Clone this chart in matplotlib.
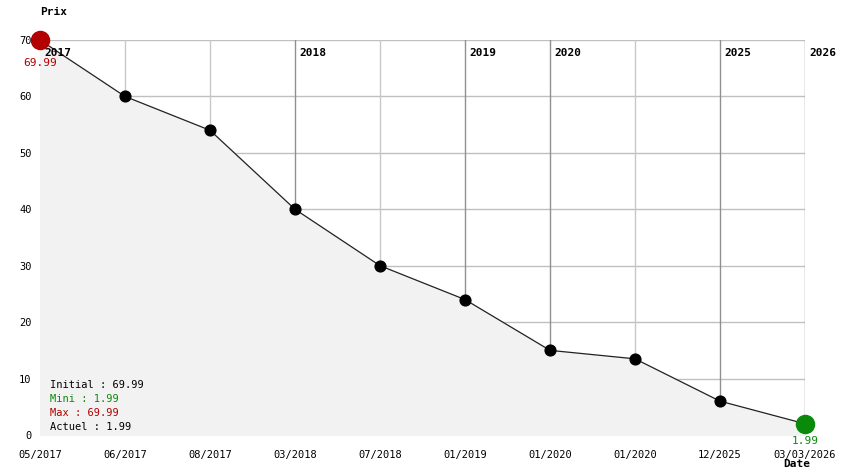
import matplotlib
matplotlib.use("Agg")
import matplotlib.pyplot as plt

dates = ["05/2017","06/2017","08/2017","03/2018","07/2018","01/2019","01/2020","01/2020","12/2025","03/03/2026"]
prices = [69.99, 60, 54, 40, 30, 24, 15, 13.5, 6, 1.99]
year_idx = [0, 3, 5, 6, 8, 9]
year_labels = ["2017", "2018", "2019", "2020", "2025", "2026"]
yticks = [0, 10, 20, 30, 40, 50, 60, 70]

plt.rcParams['font.family'] = ['DejaVu Sans Mono']
fig = plt.figure(figsize=(8.44, 4.74), dpi=100)
ax = fig.add_axes([40/844, 39/474, 765/844, 395/474])
x = list(range(len(prices)))
ax.set_xlim(0, len(prices)-1)
ax.set_ylim(0, 70)
for s in ax.spines.values():
    s.set_visible(False)
for yv in yticks:
    ax.axhline(yv, color="#c0c0c0", lw=1, zorder=0)
for xi in x:
    c = "#909090" if xi in year_idx else "#c8c8c8"
    ax.axvline(xi, color=c, lw=1, zorder=0)
ax.fill_between(x, prices, 0, color="#f2f2f2", zorder=1)
ax.plot(x, prices, color="#222222", lw=0.9, zorder=2)
ax.scatter(x[1:-1], prices[1:-1], s=60, color="black", zorder=3)
ax.scatter([x[0]], [prices[0]], s=170, color="#b30000", zorder=4, clip_on=False)
ax.scatter([x[-1]], [prices[-1]], s=170, color="#0a8a0a", zorder=4, clip_on=False)
for xi, lab in zip(year_idx, year_labels):
    ax.text(xi + 0.05, 68.5, lab, fontsize=8, fontweight="bold", va="top", ha="left", zorder=5)
ax.text(0, 66.8, "69.99", color="#b30000", fontsize=8, ha="center", va="top")
ax.text(x[-1], -0.1, "1.99", color="#0a8a0a", fontsize=8, ha="center", va="top")
ax.set_xticks(x)
ax.set_xticklabels(dates, fontsize=7.5)
ax.set_yticks(yticks)
ax.set_yticklabels([str(v) for v in yticks], fontsize=7.5)
ax.tick_params(axis="x", length=0, pad=11)
ax.tick_params(axis="y", length=0, pad=6)
fig.text(40/844, 1-12/474, "Prix", fontsize=8, fontweight="bold", va="center")
fig.text(783/844, 1-464/474, "Date", fontsize=8, fontweight="bold", va="center")
leg = [("Initial : 69.99", "black"), ("Mini : 1.99", "#0a8a0a"), ("Max : 69.99", "#b30000"), ("Actuel : 1.99", "black")]
for i, (t, c) in enumerate(leg):
    fig.text(50/844, 1-(385+14*i)/474, t, color=c, fontsize=7.5, va="center")
fig.savefig("out.png", dpi=100)
